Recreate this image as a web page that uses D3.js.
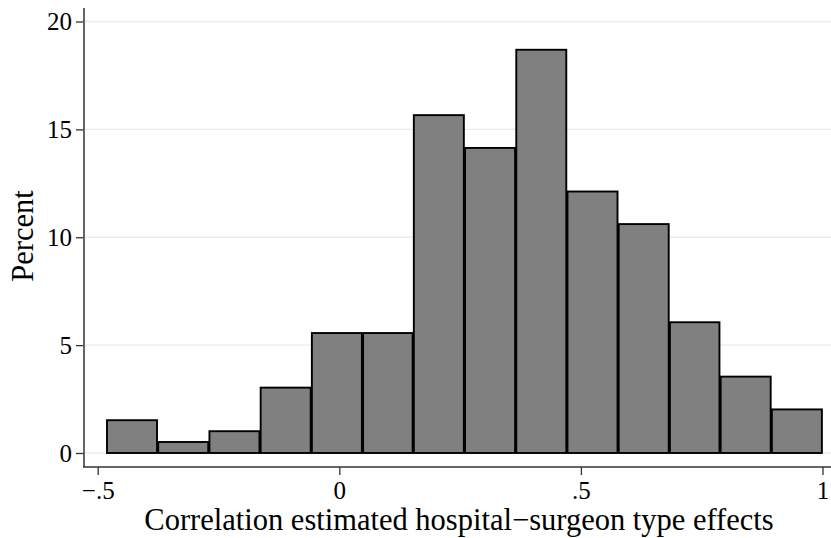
<!DOCTYPE html>
<html>
<head>
<meta charset="utf-8">
<script src="https://cdn.jsdelivr.net/npm/d3@7"></script>
<style>
  html, body { margin: 0; padding: 0; background: #fff; }
  svg { display: block; }
  text { font-family: "Liberation Serif", "Times New Roman", serif; fill: #000; }
</style>
</head>
<body>
<svg id="chart" width="831" height="538"></svg>
<script>
// ---- data ----
const binEdges = [-0.482, -0.376, -0.270, -0.164, -0.058, 0.048, 0.153, 0.259, 0.365, 0.471, 0.577, 0.683, 0.788, 0.894, 1.000];
const percents = [1.52, 0.51, 1.01, 3.03, 5.56, 5.56, 15.66, 14.14, 18.69, 12.12, 10.61, 6.06, 3.54, 2.02];
const xTicks = [-0.5, 0, 0.5, 1];
const xTickLabels = ["\u2212.5", "0", ".5", "1"];
const yTicks = [0, 5, 10, 15, 20];
const xTitle = "Correlation estimated hospital\u2212surgeon type effects";
const yTitle = "Percent";

const bins = percents.map((p, i) => ({ x0: binEdges[i], x1: binEdges[i + 1], v: p }));

const svg = d3.select("#chart");
const W = 831, H = 538;
const axisX = 84, axisY = 467;

const x = d3.scaleLinear().domain([-0.5, 1]).range([97.7, 822.5]);
const y = d3.scaleLinear().domain([0, 20]).range([453, 21.5]);

// gridlines
svg.append("g").selectAll("line").data(yTicks).join("line")
  .attr("x1", axisX + 1).attr("x2", W)
  .attr("y1", d => y(d)).attr("y2", d => y(d))
  .attr("stroke", "#e3eef0").attr("stroke-width", 1.3);

// bars
const inset = 0.6;
svg.append("g").selectAll("rect").data(bins).join("rect")
  .attr("x", d => x(d.x0) + inset)
  .attr("width", d => x(d.x1) - x(d.x0) - 2 * inset)
  .attr("y", d => y(d.v))
  .attr("height", d => y(0) - y(d.v))
  .attr("fill", "#808080")
  .attr("stroke", "#000")
  .attr("stroke-width", 1.9);

// y axis
const yAxis = d3.axisLeft(y).tickValues(yTicks).tickSize(8).tickPadding(4).tickFormat(d3.format("d"));
const gy = svg.append("g").attr("transform", `translate(${axisX},0)`).call(yAxis);
gy.select(".domain").remove();
gy.append("line").attr("x1", 0).attr("x2", 0).attr("y1", 8).attr("y2", axisY)
  .attr("stroke", "#555").attr("stroke-width", 1.8);
gy.selectAll(".tick line").attr("stroke", "#333").attr("stroke-width", 1.3);
gy.selectAll(".tick text")
  .style("font-family", '"Liberation Serif", serif')
  .attr("font-size", 25).attr("fill", "#000");

// x axis
const xAxis = d3.axisBottom(x).tickValues(xTicks).tickSize(8).tickPadding(4)
  .tickFormat((d, i) => xTickLabels[i]);
const gx = svg.append("g").attr("transform", `translate(0,${axisY})`).call(xAxis);
gx.select(".domain").remove();
gx.append("line").attr("x1", axisX - 1).attr("x2", W).attr("y1", 0).attr("y2", 0)
  .attr("stroke", "#333").attr("stroke-width", 1.5);
gx.selectAll(".tick line").attr("stroke", "#333").attr("stroke-width", 1.3);
gx.selectAll(".tick text")
  .style("font-family", '"Liberation Serif", serif')
  .attr("font-size", 25).attr("fill", "#000")
  .attr("dy", null).attr("y", 32);

// axis titles
svg.append("text")
  .attr("x", 459).attr("y", 530)
  .attr("text-anchor", "middle")
  .attr("font-size", 30.5)
  .text(xTitle);

svg.append("text")
  .attr("transform", "translate(33,236) rotate(-90)")
  .attr("text-anchor", "middle")
  .attr("font-size", 30.5)
  .text(yTitle);
</script>
</body>
</html>
